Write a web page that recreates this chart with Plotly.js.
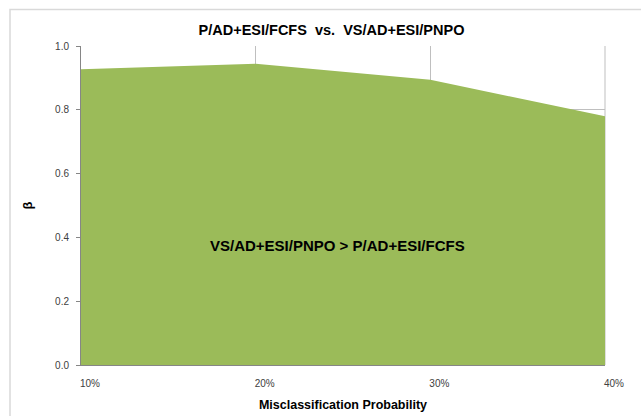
<!DOCTYPE html>
<html>
<head>
<meta charset="utf-8">
<script src="https://cdn.plot.ly/plotly-3.0.1.min.js"></script>
<style>
  html, body { margin: 0; padding: 0; background: #ffffff; }
  #chart { width: 641px; height: 416px; }
</style>
</head>
<body>
<div id="chart"></div>
<script>
// ---- data ----
const categories = [0.10, 0.20, 0.30, 0.40];          // misclassification probability
const categoryLabels = ["10%", "20%", "30%", "40%"];
const betaValues = [0.927, 0.944, 0.894, 0.780];      // beta boundary
const yTickVals = [0.0, 0.2, 0.4, 0.6, 0.8, 1.0];
const yTickLabels = ["0.0", "0.2", "0.4", "0.6", "0.8", "1.0"];
const chartTitle = "P/AD+ESI/FCFS&nbsp;&nbsp;vs.&nbsp;&nbsp;VS/AD+ESI/PNPO";
const regionLabel = "VS/AD+ESI/PNPO &gt; P/AD+ESI/FCFS";
const xTitle = "Misclassification Probability";
const yTitle = "β";

const FONT = "'Liberation Sans', Arial, sans-serif";
const GREEN = "#9BBB59";
const GRID = "#BFBFBF";
const AXIS = "#868686";

const trace = {
  type: "scatter",
  mode: "lines",
  x: categories,
  y: betaValues,
  fill: "tozeroy",
  fillcolor: GREEN,
  line: { width: 0, color: GREEN },
  hoverinfo: "x+y",
  showlegend: false
};

const layout = {
  width: 641,
  height: 416,
  margin: { l: 81, r: 36, t: 46, b: 51, pad: 0 },
  paper_bgcolor: "#ffffff",
  plot_bgcolor: "#ffffff",
  font: { family: FONT, color: "#404040" },
  title: {
    text: chartTitle,
    font: { family: FONT, size: 14.5, color: "#000000", weight: "bold" },
    xref: "container", x: 331.5 / 641, xanchor: "center",
    yref: "container", y: 1 - 30 / 416, yanchor: "middle"
  },
  xaxis: {
    range: [0.1, 0.4],
    tickvals: categories,
    ticktext: categoryLabels,
    ticks: "",
    showgrid: true,
    gridcolor: GRID,
    gridwidth: 1,
    showline: true,
    linecolor: AXIS,
    linewidth: 1,
    mirror: false,
    zeroline: false,
    tickfont: { family: FONT, size: 10, color: "#404040" },
    ticklabelshift: 9,
    ticklabelstandoff: 9,
    title: {
      text: xTitle,
      font: { family: FONT, size: 12.5, color: "#000000", weight: "bold" },
      standoff: 12
    },
    automargin: false,
    fixedrange: true
  },
  yaxis: {
    range: [0, 1],
    tickvals: yTickVals,
    ticktext: yTickLabels,
    ticks: "outside",
    ticklen: 4,
    tickcolor: AXIS,
    showgrid: true,
    gridcolor: GRID,
    gridwidth: 1,
    showline: true,
    linecolor: AXIS,
    linewidth: 1,
    zeroline: false,
    tickfont: { family: FONT, size: 10, color: "#404040" },
    ticklabelstandoff: 5,
    automargin: false,
    fixedrange: true
  },
  annotations: [
    {
      text: regionLabel,
      xref: "paper", yref: "paper",
      x: (337 - 81) / 524, y: (365 - 245.5) / 319,
      xanchor: "center", yanchor: "middle",
      showarrow: false,
      font: { family: FONT, size: 15, color: "#000000", weight: "bold" }
    },
    {
      text: yTitle,
      xref: "paper", yref: "paper",
      x: (27 - 81) / 524, y: 0.5,
      xanchor: "center", yanchor: "middle",
      textangle: -90,
      showarrow: false,
      font: { family: FONT, size: 13, color: "#000000", weight: "bold" }
    }
  ],
  shapes: [
    {
      type: "rect",
      xref: "paper", yref: "paper",
      x0: (10 - 81) / 524, x1: (700 - 81) / 524,
      y0: (365 - 460) / 319, y1: (365 - 9.5) / 319,
      line: { color: "#D9D9D9", width: 1.5 },
      fillcolor: "rgba(0,0,0,0)",
      layer: "below"
    },
    {
      type: "line",
      xref: "paper", yref: "paper",
      x0: 1, x1: 1, y0: 0, y1: 1,
      line: { color: GRID, width: 1 },
      layer: "below"
    }
  ]
};

Plotly.newPlot("chart", [trace], layout, { displayModeBar: false, staticPlot: false });
</script>
</body>
</html>
